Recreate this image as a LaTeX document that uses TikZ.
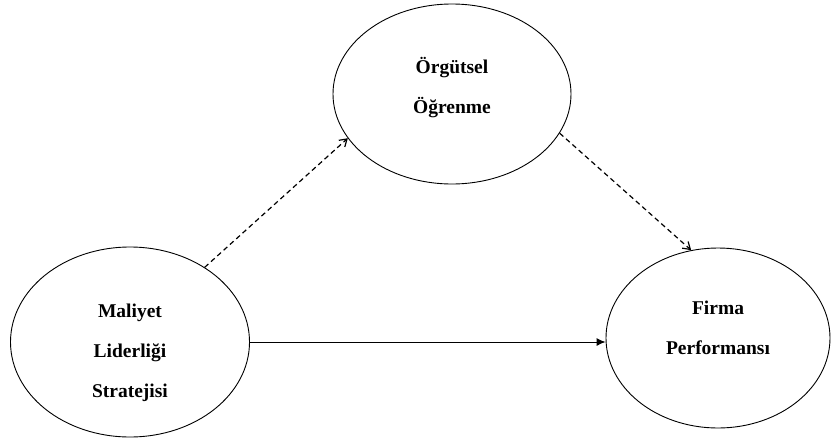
\documentclass[tikz,border=0pt]{standalone}
\usepackage{fontspec}
\setmainfont{Liberation Serif}
\usetikzlibrary{shapes.geometric,arrows.meta}
\begin{document}
\begin{tikzpicture}[x=1pt,y=-1pt,
  construct/.style={draw, ellipse, line width=0.9pt, inner sep=0pt},
  caption/.style={font=\fontsize{19.5}{40}\selectfont\bfseries, align=center},
  mediated/.style={draw, line width=1.2pt, dash pattern=on 5pt off 3.5pt, -{Straight Barb[length=7pt,width=9pt]}},
  direct/.style={draw, line width=1pt, -{Latex[length=9pt,width=8pt]}}]
\useasboundingbox (0,0) rectangle (831,445);

% constructs
\node[construct, minimum width=238pt, minimum height=180pt] (org) at (452,94) {};
\node[construct, minimum width=239pt, minimum height=190pt] (cost) at (130,342) {};
\node[construct, minimum width=224pt, minimum height=180pt] (perf) at (718,338) {};

% captions
\node[caption] (orgtxt) at (452,88) {Örgütsel\\Öğrenme};
\node[caption] (costtxt) at (130,353) {Maliyet\\Liderliği\\Stratejisi};
\node[caption] (perftxt) at (718,328) {Firma\\Performansı};

% paths
\draw[direct] (cost.east) -- (cost.east -| perf.west);
\draw[mediated] (cost.45) -- (org.203);
\draw[mediated] (org.340) -- (perf.107);
\end{tikzpicture}
\end{document}
